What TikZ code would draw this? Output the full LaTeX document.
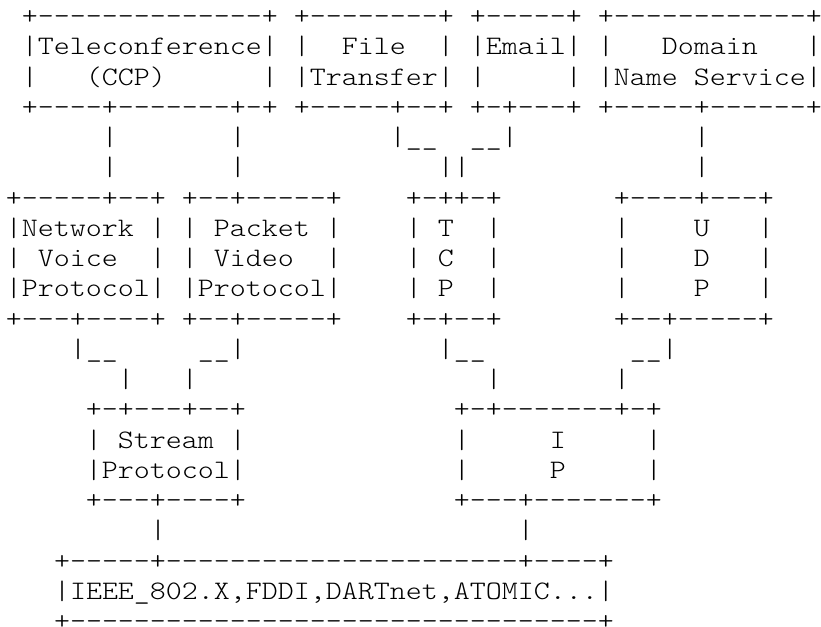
\documentclass[tikz,border=0pt]{standalone}
\usepackage{fontspec}
\setmonofont{lmmonolt10-regular.otf}[FakeStretch=1.142857]
\ExplSyntaxOn
\NewDocumentCommand\blk{m}{\prg_replicate:nn{#1}{\nobreakspace}}
\NewDocumentCommand\dsh{m}{\prg_replicate:nn{#1}{-}}
\ExplSyntaxOff
\tikzset{
  asciirow/.style={anchor=base west, inner sep=0pt, outer sep=0pt,
    font=\ttfamily\fontsize{20}{22}\selectfont, text=black},
}
\begin{document}
\begin{tikzpicture}[x=0.75pt, y=-0.75pt]
\fill[white, use as bounding box] (0,0) rectangle (821,626);
\def\lx{6}
\node[asciirow] (r1) at (\lx, 24.7) {\blk1+\dsh{14}+\blk1+\dsh8+\blk1+\dsh5+\blk1+\dsh{12}+};
\node[asciirow] (r2) at (\lx, 54.95) {\blk1|Teleconference|\blk1|\blk2File\blk2|\blk1|Email|\blk1|\blk3Domain\blk3|};
\node[asciirow] (r3) at (\lx, 85.2) {\blk1|\blk3(CCP)\blk6|\blk1|Transfer|\blk1|\blk5|\blk1|Name\blk1Service|};
\node[asciirow] (r4) at (\lx, 115.45) {\blk1+\dsh4+\dsh7+-+\blk1+\dsh5+--+\blk1+-+---+\blk1+\dsh5+\dsh6+};
\node[asciirow] (r5) at (\lx, 145.7) {\blk6|\blk7|\blk9|\_\_\blk2\_\_|\blk{11}|};
\node[asciirow] (r6) at (\lx, 175.95) {\blk6|\blk7|\blk{12}||\blk{14}|};
\node[asciirow] (r7) at (\lx, 206.2) {+\dsh5+--+\blk1+--+\dsh5+\blk4+-++-+\blk7+\dsh4+---+};
\node[asciirow] (r8) at (\lx, 236.45) {|Network\blk1|\blk1|\blk1Packet\blk1|\blk4|\blk1T\blk2|\blk7|\blk4U\blk3|};
\node[asciirow] (r9) at (\lx, 266.7) {|\blk1Voice\blk2|\blk1|\blk1Video\blk2|\blk4|\blk1C\blk2|\blk7|\blk4D\blk3|};
\node[asciirow] (r10) at (\lx, 296.95) {|Protocol|\blk1|Protocol|\blk4|\blk1P\blk2|\blk7|\blk4P\blk3|};
\node[asciirow] (r11) at (\lx, 327.2) {+---+----+\blk1+--+\dsh5+\blk4+-+--+\blk7+--+\dsh5+};
\node[asciirow] (r12) at (\lx, 357.45) {\blk4|\_\_\blk5\_\_|\blk{12}|\_\_\blk9\_\_|};
\node[asciirow] (r13) at (\lx, 387.7) {\blk7|\blk3|\blk{18}|\blk7|};
\node[asciirow] (r14) at (\lx, 417.95) {\blk5+-+---+--+\blk{13}+-+\dsh7+-+};
\node[asciirow] (r15) at (\lx, 448.2) {\blk5|\blk1Stream\blk1|\blk{13}|\blk5I\blk5|};
\node[asciirow] (r16) at (\lx, 478.45) {\blk5|Protocol|\blk{13}|\blk5P\blk5|};
\node[asciirow] (r17) at (\lx, 508.7) {\blk5+---+----+\blk{13}+---+\dsh7+};
\node[asciirow] (r18) at (\lx, 538.95) {\blk9|\blk{22}|};
\node[asciirow] (r19) at (\lx, 569.2) {\blk3+\dsh5+\dsh{22}+\dsh4+};
\node[asciirow] (r20) at (\lx, 599.45) {\blk3|IEEE\_802.X,FDDI,DARTnet,ATOMIC...|};
\node[asciirow] (r21) at (\lx, 629.7) {\blk3+\dsh{33}+};
\end{tikzpicture}
\end{document}
